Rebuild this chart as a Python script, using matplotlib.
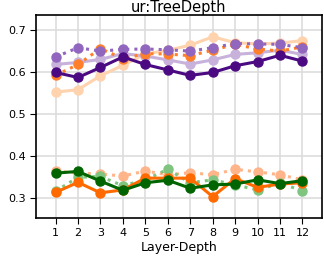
import matplotlib
matplotlib.use("Agg")
import matplotlib.pyplot as plt

layers = list(range(1, 13))

dark_purple = [0.599, 0.587, 0.611, 0.636, 0.618, 0.605, 0.592, 0.599, 0.615, 0.625, 0.640, 0.626]
light_purple = [0.618, 0.623, 0.630, 0.644, 0.638, 0.629, 0.619, 0.629, 0.642, 0.646, 0.652, 0.642]
purple_dotted = [0.636, 0.658, 0.650, 0.654, 0.655, 0.653, 0.650, 0.658, 0.668, 0.667, 0.666, 0.658]
orange_dotted = [0.592, 0.618, 0.656, 0.632, 0.644, 0.643, 0.639, 0.652, 0.666, 0.655, 0.650, 0.660]
peach_solid = [0.552, 0.558, 0.591, 0.616, 0.643, 0.652, 0.664, 0.684, 0.670, 0.667, 0.669, 0.675]
green_solid = [0.359, 0.363, 0.340, 0.318, 0.336, 0.342, 0.323, 0.331, 0.333, 0.343, 0.334, 0.341]
orange_solid = [0.313, 0.337, 0.312, 0.319, 0.347, 0.347, 0.347, 0.303, 0.346, 0.325, 0.333, 0.336]
peach_dotted = [0.364, 0.359, 0.357, 0.352, 0.364, 0.355, 0.360, 0.355, 0.368, 0.362, 0.355, 0.343]
green_dotted = [0.316, 0.349, 0.351, 0.329, 0.343, 0.368, 0.336, 0.343, 0.331, 0.319, 0.335, 0.317]

series = [
    (peach_solid, "#ffd3ae", "-"),
    (light_purple, "#c8b2dc", "-"),
    (orange_dotted, "#ff7f2a", ":"),
    (purple_dotted, "#9166bf", ":"),
    (dark_purple, "#4b0a82", "-"),
    (peach_dotted, "#ffb48a", ":"),
    (green_dotted, "#7fc47f", ":"),
    (orange_solid, "#ff6a00", "-"),
    (green_solid, "#006400", "-"),
]

fig = plt.figure(figsize=(3.24, 2.59), dpi=100)
ax = fig.add_axes([36/324, 1-218/259, (322-36)/324, (218-15)/259])

for vals, col, ls in series:
    ax.plot(layers, vals, color=col, linestyle=ls, linewidth=2.2,
            marker="o", markersize=6.5)

ax.set_xlim(0.13, 12.87)
ax.set_ylim(0.252, 0.736)
ax.set_xticks(layers)
ax.set_yticks([0.3, 0.4, 0.5, 0.6, 0.7])
ax.grid(True, color="#dddddd", linewidth=1.2)
ax.set_axisbelow(True)
ax.tick_params(labelsize=8, length=4, width=0.8)
for s in ax.spines.values():
    s.set_linewidth(1.2)
ax.set_title("ur:TreeDepth", fontsize=10.5, pad=2)
ax.set_xlabel("Layer-Depth", fontsize=9, labelpad=2)

fig.savefig("out.png", dpi=100)
